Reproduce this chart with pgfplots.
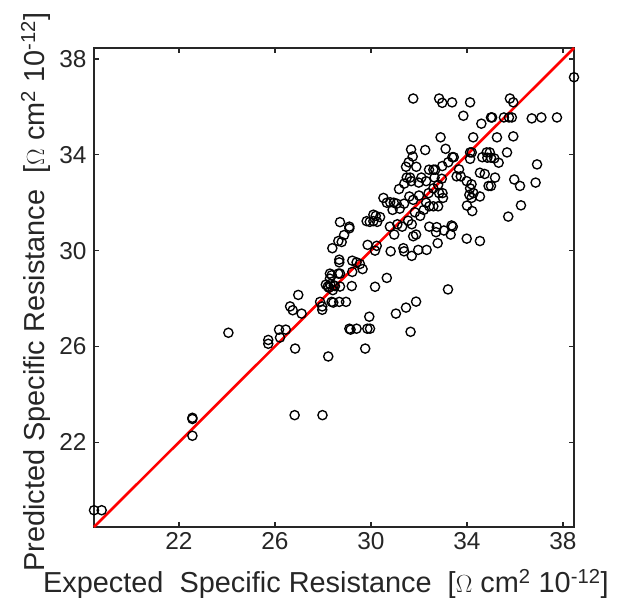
\documentclass[border=0pt]{standalone}
\usepackage{pgfplots}
\pgfplotsset{compat=1.18}
\usepackage{fontspec}
\setmainfont{Liberation Sans}
\begin{document}
\begin{tikzpicture}[x=1bp,y=1bp]
\path[use as bounding box] (-94bp,-76bp) rectangle (529bp,527bp);
\begin{axis}[
  at={(0,0)}, anchor=south west,
  scale only axis, width=480bp, height=479bp,
  xmin=18.46, xmax=38.46, ymin=18.46, ymax=38.46,
  xtick={22,26,30,34,38}, ytick={22,26,30,34,38},
  tick align=inside, major tick length=5bp,
  axis line style={draw=black!85, line width=1.3bp},
  every tick/.style={black!85, line width=1.3bp},
  /pgf/number format/assume math mode=true,
  ticklabel style={font=\fontsize{24.5}{28}\selectfont, text=black!85},
  xticklabel style={yshift=-2bp},
  yticklabel style={xshift=-4bp},
  xlabel={Expected\ \ Specific Resistance\ \ [$\Omega$ cm\textsuperscript{2} 10\textsuperscript{-12}]},
  ylabel={Predicted Specific Resistance\ \ [$\Omega$ cm\textsuperscript{2} 10\textsuperscript{-12}]},
  xlabel style={font=\fontsize{29}{32}\selectfont, text=black!85, at={(axis description cs:0.483,-0.118)}, anchor=center},
  ylabel style={font=\fontsize{29}{32}\selectfont, text=black!85, at={(axis description cs:-0.122,0.49)}, anchor=center, rotate=0},
  clip=false,
]
\addplot[only marks, mark=o, mark size=4.6bp, mark options={line width=1.35bp, draw=black}] table {
x y
18.46 19.16
18.78 19.16
22.56 23.02
22.56 22.97
22.56 22.27
24.06 26.57
25.72 26.27
25.72 26.11
26.17 26.70
26.21 26.37
26.45 26.70
26.84 25.91
26.63 27.67
26.74 27.51
26.97 28.15
27.11 27.37
26.82 23.13
27.98 23.13
27.88 27.86
27.97 27.67
27.97 27.53
28.36 27.86
28.43 27.83
28.68 27.86
28.96 27.86
28.22 25.58
29.10 26.74
29.15 26.70
29.40 26.74
29.85 26.74
29.96 26.74
29.93 27.24
29.76 25.91
31.04 27.37
31.46 27.62
31.88 27.87
31.65 26.61
33.21 28.38
28.12 28.58
28.20 28.50
28.30 28.60
28.45 28.55
28.50 28.52
28.71 28.50
28.25 28.45
28.41 28.35
29.20 28.52
30.17 28.49
30.66 28.86
28.29 29.04
28.36 28.97
28.29 28.83
28.71 29.04
28.64 29.04
29.22 29.11
28.68 29.62
28.68 29.51
29.22 29.58
29.40 29.51
29.54 29.44
29.65 29.23
28.39 30.10
28.64 30.40
28.78 30.36
28.88 30.65
29.10 30.93
28.71 31.19
29.86 30.24
30.17 30.00
30.24 30.20
30.82 29.97
31.35 30.10
31.38 29.97
31.70 29.78
31.97 30.03
32.32 30.03
32.78 30.31
33.99 30.50
34.54 30.40
32.71 30.77
33.04 30.84
33.32 30.67
33.36 31.05
30.97 30.67
31.76 30.60
31.88 30.67
30.10 31.50
30.20 31.45
30.38 31.40
29.82 31.23
29.95 31.20
30.10 31.23
30.26 31.20
29.10 31.00
30.79 31.00
31.10 31.10
31.30 31.00
31.55 31.25
31.70 31.10
32.43 31.00
32.74 30.98
33.41 31.00
31.83 31.60
32.05 31.45
32.30 32.00
32.43 31.85
32.60 31.85
32.80 31.85
32.20 31.70
34.00 31.88
34.22 31.65
35.72 31.42
36.25 31.89
30.52 32.20
30.66 32.00
30.80 32.02
30.95 32.00
31.07 31.96
31.38 31.96
31.20 31.75
30.90 31.70
31.60 32.26
31.76 32.12
32.00 32.30
32.40 32.40
32.84 32.40
32.98 32.40
33.00 32.20
32.60 32.60
32.80 32.75
34.10 32.33
34.27 32.40
34.19 32.20
34.54 32.26
31.17 32.57
31.39 32.80
31.68 32.90
31.99 32.84
31.49 33.05
31.63 33.05
32.10 33.05
32.30 32.90
32.65 33.05
32.95 33.00
33.99 32.90
34.19 32.77
34.13 32.60
34.54 33.25
34.74 33.20
34.90 32.70
35.00 32.70
35.17 33.05
35.97 32.97
36.21 32.70
36.86 32.84
31.46 33.50
31.57 33.69
31.89 33.50
32.42 33.38
32.60 33.38
32.68 33.38
32.97 33.53
33.22 33.69
33.67 33.39
33.57 33.10
33.74 33.10
31.67 34.22
32.26 34.20
31.74 33.93
33.11 34.25
33.39 33.90
33.45 33.90
34.13 34.10
34.20 34.10
34.13 33.83
34.64 33.90
34.82 34.10
34.95 34.10
34.85 33.88
35.00 33.88
35.14 33.85
35.32 33.67
35.67 34.10
36.92 33.60
32.90 34.73
34.26 34.73
35.25 34.73
35.93 34.77
33.85 35.63
34.60 35.30
35.00 35.56
35.05 35.56
35.54 35.56
35.75 35.56
35.87 35.56
36.70 35.52
37.10 35.56
37.75 35.56
31.76 36.35
32.84 36.35
32.97 36.17
33.38 36.19
34.13 36.19
35.79 36.35
35.93 36.19
38.46 37.24
};
\addplot[red, line width=2.6bp] coordinates {(18.46,18.46) (38.46,38.46)};
\end{axis}
\end{tikzpicture}
\end{document}
